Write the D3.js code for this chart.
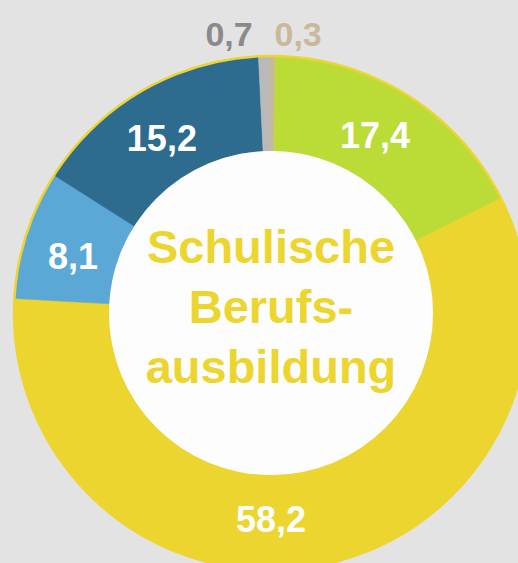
<!DOCTYPE html>
<html>
<head>
<meta charset="utf-8">
<script src="https://cdn.jsdelivr.net/npm/d3@7"></script>
<style>
  html, body { margin: 0; padding: 0; background: #e3e3e3; }
  svg { display: block; }
  text { font-family: "Liberation Sans", Arial, Helvetica, sans-serif; font-weight: bold; }
</style>
</head>
<body>
<svg id="chart" width="518" height="563"></svg>
<script>
// data
const categories = ["A", "B", "C", "D", "E", "F"];
const values = [17.4, 58.2, 8.1, 15.2, 0.7, 0.3];
const labels = ["17,4", "58,2", "8,1", "15,2", "0,7", "0,3"];
const sliceColors = ["#bbdb37", "#edd52f", "#5ba8d6", "#2d6b8f", "#b9b9b9", "#c8b89b"];
const centerLines = ["Schulische", "Berufs-", "ausbildung"];

const width = 518, height = 563;
const cx = 271, cy = 313;
const outerR = 257, innerR = 162;
const startOffset = 0.8 * Math.PI / 180;
const labelNudge = -1.8 * Math.PI / 180; // labels sit a little counter-clockwise of the centroid

const svg = d3.select("#chart");

const pie = d3.pie()
  .value(d => d.value)
  .sort(null)
  .startAngle(startOffset)
  .endAngle(2 * Math.PI + startOffset);

const data = categories.map((c, i) => ({ cat: c, value: values[i], label: labels[i] }));
const arcs = pie(data);

const arc = d3.arc().innerRadius(innerR).outerRadius(outerR);
const labelArc = d3.arc().innerRadius(206).outerRadius(206);

const color = d3.scaleOrdinal().domain(categories).range(sliceColors);

const g = svg.append("g").attr("transform", `translate(${cx},${cy})`);

g.selectAll("path.slice")
  .data(arcs)
  .enter()
  .append("path")
  .attr("class", "slice")
  .attr("d", arc)
  .attr("fill", d => color(d.data.cat))
  .attr("stroke", d => color(d.data.cat))
  .attr("stroke-width", 0.5);

// thin yellow rim round the ring
g.append("circle")
  .attr("r", outerR)
  .attr("fill", "none")
  .attr("stroke", "#edd52f")
  .attr("stroke-width", 2.5);

// white hole
g.append("circle")
  .attr("r", innerR)
  .attr("fill", "#fdfdfd");

// labels inside the ring (big slices)
const big = arcs.filter(d => d.data.value > 5);
g.selectAll("text.val")
  .data(big)
  .enter()
  .append("text")
  .attr("class", "val")
  .attr("text-anchor", "middle")
  .attr("dy", "0.36em")
  .attr("font-size", 36)
  .attr("fill", "#ffffff")
  .attr("transform", d => {
    let p = labelArc.centroid({ startAngle: d.startAngle + labelNudge, endAngle: d.endAngle + labelNudge });
    // the big yellow one sits at the bottom
    if (d.data.cat === "B") p = [0, 206];
    return `translate(${p[0]},${p[1]})`;
  })
  .text(d => d.data.label);

// tiny slices get labels above the ring
const small = arcs.filter(d => d.data.value <= 5);
const smallColors = { E: "#8a8a8a", F: "#c9b99a" };
const rimArc = d3.arc().innerRadius(outerR).outerRadius(outerR);
g.selectAll("text.small")
  .data(small)
  .enter()
  .append("text")
  .attr("class", "small")
  .attr("text-anchor", "middle")
  .attr("font-size", 34)
  .attr("fill", d => smallColors[d.data.cat])
  .attr("x", (d, i) => rimArc.centroid(d)[0] + (i === 0 ? -35 : 26))
  .attr("y", -outerR - 10)
  .text(d => d.data.label);

// centre title
g.append("g")
  .selectAll("text")
  .data(centerLines)
  .enter()
  .append("text")
  .attr("text-anchor", "middle")
  .attr("font-size", 47)
  .attr("fill", "#edd52f")
  .attr("y", (d, i) => -50 + i * 60)
  .text(d => d);
</script>
</body>
</html>
